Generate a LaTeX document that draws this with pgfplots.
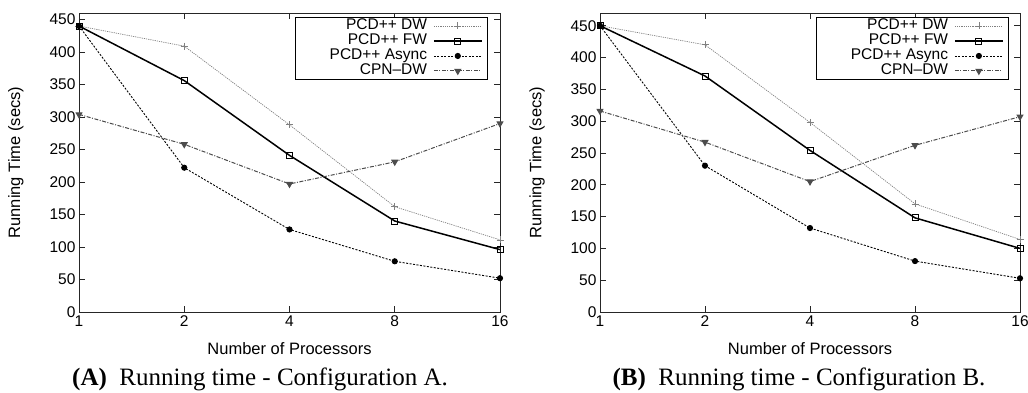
\documentclass[border=0pt]{standalone}
\usepackage{fontspec}
\setmainfont{Liberation Sans}
\newfontfamily\capfont{Liberation Serif}
\usepackage{pgfplots}
\pgfplotsset{compat=1.18}

\pgfplotsset{
  legend image code/.code={\draw[mark repeat=2,mark phase=2,#1] plot coordinates {(0pt,0pt) (24pt,0pt) (48pt,0pt)};},
  sDW/.style={color=black!50, line width=0.7pt, dash pattern=on 1.2pt off 1pt, mark=+, mark size=3.5pt, mark options={solid, line width=0.7pt}},
  sFW/.style={color=black, line width=1.5pt, mark=square, mark size=3pt, mark options={solid, line width=0.8pt}},
  sAS/.style={color=black, line width=0.9pt, dash pattern=on 2pt off 1.5pt, mark=*, mark size=2.6pt, mark options={solid}},
  sCPN/.style={color=black!70, line width=1pt, dash pattern=on 4pt off 1.5pt on 1pt off 1.5pt, mark=triangle*, mark size=3.3pt, mark options={solid, rotate=180}},
}
\pgfplotsset{
  rtstyle/.style={
    scale only axis,
    xmin=0, xmax=4,
    xtick={0,1,2,3,4}, xticklabels={1,2,4,8,16},
    ymin=0,
    ytick={0,50,...,450},
    tick align=inside,
    major tick length=6pt,
    axis line style={line width=0.9pt, black!85},
    every tick/.style={line width=0.8pt, black!85},
    tick label style={font=\fontsize{15.5}{16}\selectfont},
    /pgf/number format/assume math mode=true,
    label style={font=\fontsize{16.5}{18}\selectfont},
    xlabel={Number of Processors},
    ylabel={Running Time (secs)},
    xlabel style={at={(axis description cs:0.5,-0.124)}, anchor=center},
    ylabel style={at={(axis description cs:-0.150,0.5)}, anchor=center},
    legend plot pos=right,
    legend cell align=right,
    legend style={font=\fontsize{15.5}{15}\selectfont, draw=black, line width=0.9pt,
      inner xsep=5pt, inner ysep=1pt, row sep=0pt,
      nodes={inner sep=1pt, text height=10.5pt, text depth=2.5pt},
      /tikz/every odd column/.append style={column sep=5pt}},
  }
}

\begin{document}
\begin{tikzpicture}
\path[use as bounding box] (-79pt,-80pt) rectangle (949pt,312pt);

\begin{axis}[rtstyle, at={(0pt,0pt)}, anchor=south west,
  width=421pt, height=299pt, ymax=460,
  legend style={at={(axis description cs:0.9715,0.9866)}, anchor=north east}]
\addplot[sDW] coordinates {(0,440) (1,409) (2,288) (3,162) (4,111)};
\addlegendentry{\makebox[126pt][r]{PCD++ DW}}
\addplot[sFW] coordinates {(0,440) (1,356) (2,241) (3,140) (4,96)};
\addlegendentry{PCD++ FW}
\addplot[sAS] coordinates {(0,440) (1,222) (2,127) (3,78) (4,52)};
\addlegendentry{PCD++ Async}
\addplot[sCPN] coordinates {(0,304) (1,258) (2,197) (3,231) (4,290)};
\addlegendentry{CPN--DW}
\end{axis}

\begin{axis}[rtstyle, at={(521pt,0pt)}, anchor=south west,
  width=420pt, height=299pt, ymax=470,
  legend style={at={(axis description cs:0.974,0.9866)}, anchor=north east}]
\addplot[sDW] coordinates {(0,450) (1,420) (2,298) (3,170) (4,114)};
\addlegendentry{\makebox[126pt][r]{PCD++ DW}}
\addplot[sFW] coordinates {(0,450) (1,371) (2,254) (3,148) (4,100)};
\addlegendentry{PCD++ FW}
\addplot[sAS] coordinates {(0,450) (1,230) (2,132) (3,80) (4,53)};
\addlegendentry{PCD++ Async}
\addplot[sCPN] coordinates {(0,316) (1,267) (2,205) (3,262) (4,307)};
\addlegendentry{CPN--DW}
\end{axis}

\node[anchor=base, font=\capfont\fontsize{25}{27}\selectfont] at (181pt,-73pt) {\textbf{(A)}\enspace Running time - Configuration A.};
\node[anchor=base, font=\capfont\fontsize{25}{27}\selectfont] at (720pt,-73pt) {\textbf{(B)}\enspace Running time - Configuration B.};
\end{tikzpicture}
\end{document}
